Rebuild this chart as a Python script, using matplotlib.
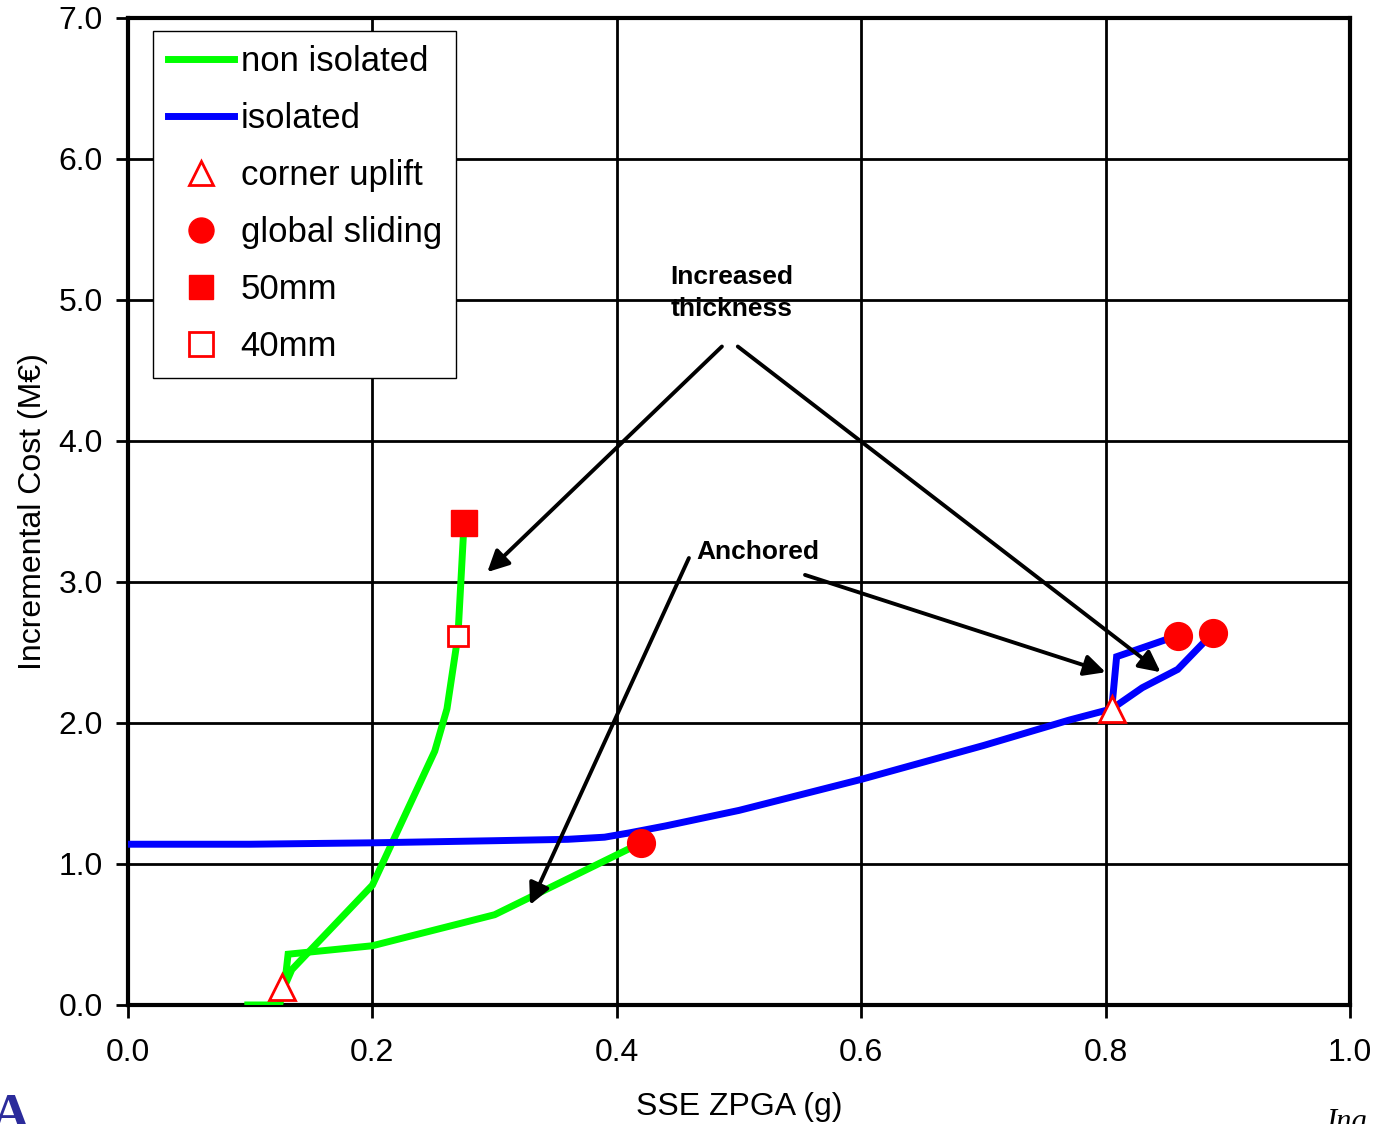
import numpy as np
import matplotlib
matplotlib.use("Agg")
import matplotlib.pyplot as plt
from matplotlib.lines import Line2D

plt.rcParams["font.family"] = ["Liberation Sans", "DejaVu Sans"]

# --- data ---
# non isolated, "anchored" branch
green_a_x = [0.098, 0.124, 0.128, 0.131, 0.20, 0.30, 0.42]
green_a_y = [0.00, 0.00, 0.13, 0.36, 0.42, 0.64, 1.15]
# non isolated, "increased thickness" branch
green_b_x = [0.128, 0.134, 0.20, 0.251, 0.261, 0.270, 0.275]
green_b_y = [0.13, 0.25, 0.85, 1.80, 2.10, 2.62, 3.42]

# isolated, main curve
blue_x = [0.0, 0.10, 0.20, 0.30, 0.36, 0.39, 0.41, 0.44, 0.50, 0.60, 0.70, 0.77, 0.805]
blue_y = [1.14, 1.14, 1.15, 1.165, 1.175, 1.19, 1.22, 1.27, 1.38, 1.60, 1.84, 2.02, 2.10]
# isolated, anchored branch
blue_a_x = [0.805, 0.809, 0.859]
blue_a_y = [2.10, 2.47, 2.62]
# isolated, thickness branch
blue_b_x = [0.805, 0.83, 0.859, 0.888]
blue_b_y = [2.10, 2.25, 2.38, 2.64]

uplift_x = [0.126, 0.805]
uplift_y = [0.13, 2.10]
sliding_x = [0.42, 0.859, 0.888]
sliding_y = [1.15, 2.62, 2.64]
mm50_x, mm50_y = [0.275], [3.42]
mm40_x, mm40_y = [0.270], [2.62]

GREEN = "#00ff00"
BLUE = "#0000ff"
RED = "#ff0000"

fig = plt.figure(figsize=(13.78, 11.24), dpi=100)
ax = fig.add_axes([0.0929, 0.1059, 0.8868, 0.8781])

for xs, ys in [(green_a_x, green_a_y), (green_b_x, green_b_y)]:
    ax.plot(xs, ys, color=GREEN, lw=5, solid_joinstyle="miter", zorder=3)
for xs, ys in [(blue_x, blue_y), (blue_a_x, blue_a_y), (blue_b_x, blue_b_y)]:
    ax.plot(xs, ys, color=BLUE, lw=5, solid_joinstyle="miter", zorder=3)

ax.plot(uplift_x, uplift_y, ls="none", marker="^", ms=19, mfc="white",
        mec=RED, mew=2, zorder=5)
ax.plot(sliding_x, sliding_y, ls="none", marker="o", ms=20, mfc=RED,
        mec=RED, zorder=5)
ax.plot(mm50_x, mm50_y, ls="none", marker="s", ms=19, mfc=RED, mec=RED, zorder=5)
ax.plot(mm40_x, mm40_y, ls="none", marker="s", ms=15, mfc="white",
        mec=RED, mew=2, zorder=5)

# annotations
arrow = dict(arrowstyle="-|>", color="black", lw=2.8, mutation_scale=32,
             shrinkA=0, shrinkB=0)
ax.text(0.444, 5.05, "Increased\nthickness", fontsize=19, fontweight="bold",
        ha="left", va="center", linespacing=1.4, zorder=6)
ax.annotate("", xy=(0.294, 3.07), xytext=(0.486, 4.67), arrowprops=arrow)
ax.annotate("", xy=(0.845, 2.36), xytext=(0.499, 4.67), arrowprops=arrow)
ax.text(0.465, 3.21, "Anchored", fontsize=19, fontweight="bold",
        ha="left", va="center", zorder=6)
ax.annotate("", xy=(0.329, 0.71), xytext=(0.459, 3.17), arrowprops=arrow)
ax.annotate("", xy=(0.80, 2.36), xytext=(0.554, 3.05), arrowprops=arrow)

ax.set_xlim(0, 1.0)
ax.set_ylim(0, 7.0)
ax.set_xticks(np.arange(0, 1.01, 0.2))
ax.set_yticks(np.arange(0, 7.01, 1.0))
ax.set_xticklabels([f"{v:.1f}" for v in np.arange(0, 1.01, 0.2)])
ax.set_yticklabels([f"{v:.1f}" for v in np.arange(0, 7.01, 1.0)])
ax.tick_params(labelsize=23, length=9, width=2, direction="out")
ax.tick_params(axis="x", pad=15)
ax.tick_params(axis="y", pad=9)
ax.grid(True, color="black", lw=2)
ax.set_axisbelow(True)
for sp in ax.spines.values():
    sp.set_linewidth(3)

ax.set_xlabel("SSE ZPGA (g)", fontsize=23, labelpad=17)
ax.set_ylabel("Incremental Cost (M€)", fontsize=23, labelpad=8)

handles = [
    Line2D([], [], color=GREEN, lw=5),
    Line2D([], [], color=BLUE, lw=5),
    Line2D([], [], ls="none", marker="^", ms=17, mfc="white", mec=RED, mew=2),
    Line2D([], [], ls="none", marker="o", ms=18, mfc=RED, mec=RED),
    Line2D([], [], ls="none", marker="s", ms=17, mfc=RED, mec=RED),
    Line2D([], [], ls="none", marker="s", ms=17, mfc="white", mec=RED, mew=2),
]
labels = ["non isolated", "isolated", "corner uplift", "global sliding",
          "50mm", "40mm"]
leg = ax.legend(handles, labels, loc="upper left", bbox_to_anchor=(0.0205, 0.987),
                fontsize=25, frameon=True, fancybox=False, edgecolor="black",
                framealpha=1, handlelength=1.9, handletextpad=0.2,
                labelspacing=0.69, borderpad=0.42, borderaxespad=0)
leg.get_frame().set_linewidth(1)

# cut-off page artefacts at the bottom corners
fig.text(-0.006, -0.015, "A", fontsize=38, fontweight="bold", color="#2b2b9b",
         family="Liberation Serif", ha="left", va="bottom")
fig.text(0.962, -0.012, "Ing", fontsize=22, fontstyle="italic",
         family="Liberation Serif", ha="left", va="bottom")

fig.savefig("out.png", dpi=100)
